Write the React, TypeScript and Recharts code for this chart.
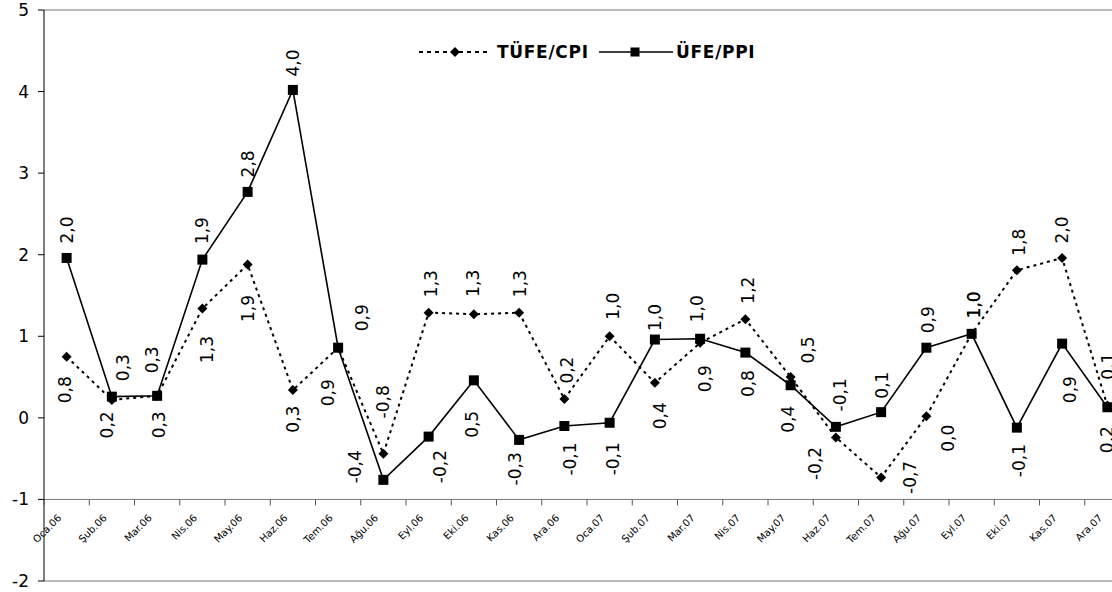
import React from 'react';
import { LineChart, Line, XAxis, YAxis, ReferenceLine, LabelList, Legend } from 'recharts';

// ---- data ----
const months = ['Oca.06', 'Şub.06', 'Mar.06', 'Nis.06', 'May.06', 'Haz.06', 'Tem.06', 'Ağu.06', 'Eyl.06', 'Eki.06', 'Kas.06', 'Ara.06',
  'Oca.07', 'Şub.07', 'Mar.07', 'Nis.07', 'May.07', 'Haz.07', 'Tem.07', 'Ağu.07', 'Eyl.07', 'Eki.07', 'Kas.07', 'Ara.07'];
const cpi = [0.75, 0.22, 0.27, 1.34, 1.88, 0.34, 0.86, -0.44, 1.29, 1.27, 1.29, 0.23,
  1.00, 0.43, 0.92, 1.21, 0.50, -0.24, -0.73, 0.02, 1.03, 1.81, 1.96, 0.15];
const ppi = [1.96, 0.26, 0.27, 1.94, 2.77, 4.02, 0.86, -0.76, -0.23, 0.46, -0.27, -0.10,
  -0.06, 0.96, 0.97, 0.80, 0.40, -0.11, 0.07, 0.86, 1.03, -0.12, 0.91, 0.13];
const yTicks = [-2, -1, 0, 1, 2, 3, 4, 5];
const seriesNames = { cpi: 'TÜFE/CPI', ppi: 'ÜFE/PPI' };

const data = months.map((m, i) => ({ month: m, cpi: cpi[i], ppi: ppi[i] }));

// ---- label placement (relative offsets dx, dy from the point, style only) ----
const ppiLabelOffsets: [number, number][] = [
  [0, -28], [11, -29], [-5, -36], [0, -29], [0, -28], [0, -27], [24, -30], [0, -78],
  [11, 30], [-2, 44], [-4, 29], [6, 33], [3, 36], [0, -22], [-3, -30], [3, 31],
  [-3, 34], [4, -32], [1, -27], [2, -28], [2, -29], [2, 33], [8, 46], [1, -41],
];
const cpiLabelOffsets: [number, number][] = [
  [-2, 33], [-5, 25], [2, 29], [5, 41], [0, 44], [0, 29], [-10, 45], [-28, 13],
  [2, -29], [-1, -31], [1, -29], [3, -29], [3, -30], [5, 33], [5, 36], [3, -29],
  [17, -27], [-21, 26], [29, 0], [22, 22], [2, -29], [2, -28], [0, -28], [0, 34],
];

// ---- geometry ----
const CHART_W = 1130;
const CHART_H = 592;
const MARGIN = { top: 10, right: 0, bottom: 10, left: 0 };
const YAXIS_W = 44;
const XAXIS_H = 1;
const Y_MIN = -2;
const Y_MAX = 5;
const X_AXIS_AT = -1;
const PLOT_W = CHART_W - MARGIN.left - MARGIN.right - YAXIS_W;
const PLOT_H = CHART_H - MARGIN.top - MARGIN.bottom - XAXIS_H;
const BAND = PLOT_W / months.length;
const AXIS_Y = MARGIN.top + ((Y_MAX - X_AXIS_AT) / (Y_MAX - Y_MIN)) * PLOT_H;

const FONT = '"DejaVu Sans", Verdana, sans-serif';

const fmt = (v: number) => (Math.round(v * 10) / 10).toFixed(1).replace('.', ',');

const MonthTick = (props: any) => {
  const { x, payload, index } = props;
  const ax = x - 4.5;
  const ay = AXIS_Y + 19;
  return (
    <g>
      <line x1={x - BAND / 2} x2={x - BAND / 2} y1={AXIS_Y} y2={AXIS_Y + 6} stroke="#555" strokeWidth={1} />
      {index === months.length - 1 && (
        <line x1={x + BAND / 2} x2={x + BAND / 2} y1={AXIS_Y} y2={AXIS_Y + 6} stroke="#555" strokeWidth={1} />
      )}
      <g transform={`translate(${ax},${ay}) rotate(-45)`}>
        <text x={0} y={0} textAnchor="end" fontSize={10} fill="#000">
          {payload.value}
        </text>
      </g>
    </g>
  );
};

const makeLabel = (offsets: [number, number][]) => (props: any) => {
  const { x, y, value, index } = props;
  if (x == null || y == null) return null;
  const [dx, dy] = offsets[index] || [0, -28];
  const lx = x + dx;
  const ly = y + dy;
  return (
    <g key={`l-${index}`} transform={`translate(${lx},${ly}) rotate(-90)`}>
      <text x={0} y={0} textAnchor="middle" dominantBaseline="central" fontSize={17} fill="#000">
        {fmt(Number(value))}
      </text>
    </g>
  );
};

const diamondPath = (cx: number, cy: number, r: number) =>
  `M${cx},${cy - r}L${cx + r},${cy}L${cx},${cy + r}L${cx - r},${cy}Z`;

const DiamondDot = (props: any) => {
  const { cx, cy, index } = props;
  if (cx == null || cy == null) return <g key={`d-${index}`} />;
  return <path key={`d-${index}`} d={diamondPath(cx, cy, 5)} fill="#000" />;
};

const SquareDot = (props: any) => {
  const { cx, cy, index } = props;
  if (cx == null || cy == null) return <g key={`s-${index}`} />;
  return <rect key={`s-${index}`} x={cx - 5} y={cy - 5} width={10} height={10} fill="#000" />;
};

const LegendContent = () => (
  <svg width={360} height={26} style={{ display: 'block', overflow: 'visible' }}>
    <line x1={4} x2={72} y1={13} y2={13} stroke="#000" strokeWidth={2} strokeDasharray="4 4" />
    <path d={diamondPath(40, 13, 5)} fill="#000" />
    <text x={82} y={13} dominantBaseline="central" fontSize={17} fontWeight="bold" letterSpacing={0.7} fill="#000">
      {seriesNames.cpi}
    </text>
    <line x1={184} x2={258} y1={13} y2={13} stroke="#000" strokeWidth={1.5} />
    <rect x={215.5} y={8.5} width={9} height={9} fill="#000" />
    <text x={261} y={13} dominantBaseline="central" fontSize={17} fontWeight="bold" letterSpacing={0.7} fill="#000">
      {seriesNames.ppi}
    </text>
  </svg>
);

export default function App() {
  return (
    <div
      style={{
        position: 'fixed',
        left: 0,
        top: 0,
        width: 1112,
        height: 592,
        overflow: 'hidden',
        background: '#fff',
        fontFamily: FONT,
      }}
    >
      <LineChart width={CHART_W} height={CHART_H} data={data} margin={MARGIN}>
        <XAxis
          dataKey="month"
          padding={{ left: BAND / 2, right: BAND / 2 }}
          axisLine={false}
          tickLine={false}
          tickSize={0}
          tickMargin={0}
          interval={0}
          height={XAXIS_H}
          tick={(p: any) => <MonthTick key={`t-${p.index}`} {...p} />}
        />
        <YAxis
          domain={[Y_MIN, Y_MAX]}
          ticks={yTicks}
          interval={0}
          width={YAXIS_W}
          allowDataOverflow
          axisLine={{ stroke: '#000', strokeWidth: 1 }}
          tickLine={{ stroke: '#000', strokeWidth: 1 }}
          tickSize={6}
          tickMargin={9}
          tick={{ fill: '#000', fontSize: 17 }}
        />
        <ReferenceLine y={Y_MAX} stroke="#777" strokeWidth={1} />
        <ReferenceLine y={Y_MIN} stroke="#777" strokeWidth={1} />
        <ReferenceLine y={X_AXIS_AT} stroke="#777" strokeWidth={1} />
        <Legend
          layout="horizontal"
          verticalAlign="middle"
          align="center"
          wrapperStyle={{ top: 39, left: 415, width: 360, height: 26 }}
          content={<LegendContent />}
        />
        <Line
          type="linear"
          dataKey="cpi"
          name={seriesNames.cpi}
          stroke="#000"
          strokeWidth={2}
          strokeDasharray="3 4"
          dot={DiamondDot}
          activeDot={false}
          isAnimationActive={false}
        >
          <LabelList dataKey="cpi" content={makeLabel(cpiLabelOffsets)} />
        </Line>
        <Line
          type="linear"
          dataKey="ppi"
          name={seriesNames.ppi}
          stroke="#000"
          strokeWidth={1.6}
          dot={SquareDot}
          activeDot={false}
          isAnimationActive={false}
        >
          <LabelList dataKey="ppi" content={makeLabel(ppiLabelOffsets)} />
        </Line>
      </LineChart>
    </div>
  );
}
